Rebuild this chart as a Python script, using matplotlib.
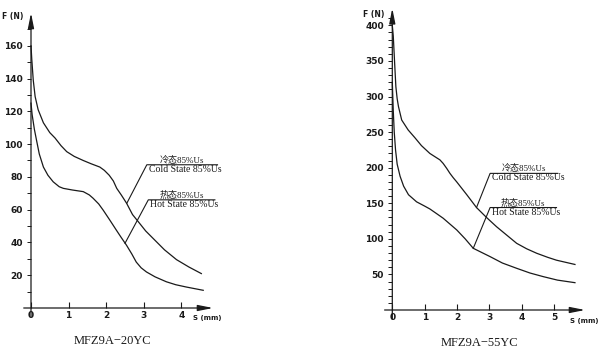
"""
Force-stroke curves of two MFZ9A solenoids (cold / hot state at 85% Us).
Writes out.png.
"""

import matplotlib

matplotlib.use("Agg")
import matplotlib.pyplot as plt

# MFZ9A-20YC, stroke S (mm) vs force F (N)
l_cold_s = [0.0, 0.02, 0.06, 0.11, 0.19, 0.33, 0.5, 0.64, 0.8, 0.95, 1.15, 1.39, 1.6, 1.83,
            1.95, 2.08, 2.19, 2.28, 2.4, 2.54, 2.7, 2.89, 3.05, 3.25, 3.55, 3.87, 4.2, 4.53]
l_cold_f = [160, 152, 139, 129, 121, 113, 107, 103.7, 99, 95.4, 92.5, 90, 88, 86,
            84, 81, 77.5, 73, 69, 64, 57, 51.6, 47, 42.4, 35.5, 29.5, 25, 21]
l_hot_s = [0.0, 0.03, 0.09, 0.15, 0.22, 0.33, 0.45, 0.59, 0.75, 0.86, 1.1, 1.39, 1.55, 1.65,
           1.8, 1.92, 2.1, 2.27, 2.4, 2.54, 2.68, 2.8, 2.93, 3.07, 3.3, 3.6, 3.85, 4.13, 4.58]
l_hot_f = [125, 118, 109, 102, 94, 86, 81, 77, 74, 73, 72, 71, 69, 67,
           63.5, 59.7, 53.5, 47.5, 43, 38.3, 33, 28, 24.5, 22, 19, 16, 14.2, 12.8, 10.8]

# MFZ9A-55YC
r_cold_s = [0.0, 0.03, 0.08, 0.11, 0.15, 0.19, 0.29, 0.49, 0.7, 0.9, 1.16, 1.4, 1.47, 1.57,
            1.68, 1.78, 1.88, 1.99, 2.3, 2.6, 2.91, 3.22, 3.84, 4.15, 4.46, 4.8, 5.07, 5.64]
r_cold_f = [400, 385, 340, 314, 297, 286, 267, 253, 242, 231, 220, 213, 211, 206,
            199, 192, 186, 180, 162, 144, 130, 117, 93.7, 86, 79.7, 74, 70, 64]
r_hot_s = [0.0, 0.03, 0.06, 0.1, 0.15, 0.24, 0.35, 0.5, 0.75, 1.0, 1.16, 1.35, 1.57, 1.99,
           2.25, 2.5, 3.02, 3.4, 3.84, 4.25, 4.66, 5.1, 5.64]
r_hot_f = [320, 280, 250, 225, 205, 188, 174, 162, 152, 146, 142, 136, 129, 112.5,
           100, 86.7, 75, 66, 58.6, 52, 46.9, 42, 38.4]

# leader lines: (start, bend, end) in data units
l_cold_lead = ([2.55, 3.08, 4.96], [64, 87.4, 87.4])
l_hot_lead = ([2.5, 3.12, 4.89], [39.5, 66, 66])
r_cold_lead = ([2.6, 3.02, 5.11], [144, 192, 192])
r_hot_lead = ([2.5, 3.02, 5.07], [86.7, 144, 144])

cn_cold = "冷态85%Us"
cn_hot = "热态85%Us"
en_cold = "Cold State 85%Us"
en_hot = "Hot State 85%Us"

LINE = "#1a1a1a"
SERIF = ["Liberation Serif", "Noto Sans CJK SC"]


def draw_panel(ax, xmax, ymax, xticks, ymajor, yminor, title, curves, leads,
               s_pos, f_pos):
    ax.set_xlim(0, xmax)
    ax.set_ylim(0, ymax)
    for sp in ax.spines.values():
        sp.set_visible(False)
    ax.patch.set_alpha(0)

    # axes drawn as arrows
    arrow = dict(arrowstyle="-|>,head_length=0.9,head_width=0.18", lw=0.9,
                 color=LINE, mutation_scale=10, shrinkA=0, shrinkB=0)
    ax.annotate("", xy=(xmax, 0), xytext=(-0.04 * xmax, 0), arrowprops=arrow,
                annotation_clip=False)
    ax.annotate("", xy=(0, ymax), xytext=(0, -0.03 * ymax), arrowprops=arrow,
                annotation_clip=False)

    ax.set_xticks(xticks)
    ax.set_xticklabels([str(t) for t in xticks])
    ax.set_yticks(ymajor)
    ax.set_yticklabels([str(t) for t in ymajor])
    ax.set_yticks(yminor, minor=True)
    ax.tick_params(axis="x", direction="in", length=4, width=0.8, pad=2,
                   labelsize=6.5, colors=LINE)
    ax.tick_params(axis="y", which="both", direction="out", length=3, width=0.7,
                   pad=3, labelsize=6.5, colors=LINE)
    for lab in ax.get_xticklabels() + ax.get_yticklabels():
        lab.set_fontweight("bold")

    for s, f in curves:
        ax.plot(s, f, color=LINE, lw=0.9, clip_on=False)

    # leader line + two-line label (Chinese above the rule, English below)
    for (xs, ys), cn, en in leads:
        ax.plot(xs, ys, color=LINE, lw=0.8, clip_on=False)
        xc = (xs[1] + xs[2]) / 2
        ax.text(xc, ys[1], cn, ha="center", va="bottom", fontsize=6.5,
                family=SERIF, color=LINE)
        ax.text(xs[1] + 0.01 * xmax, ys[1], en, ha="left", va="top",
                fontsize=7, family=SERIF, color=LINE)

    ax.text(s_pos[0], s_pos[1], "S (mm)", ha="left", va="top",
            fontsize=5, fontweight="bold", color=LINE)
    ax.text(f_pos[0], f_pos[1], "F (N)", ha="right", va="center",
            fontsize=5.5, fontweight="bold", color=LINE)
    ax.text(xmax * 0.45, -0.09 * ymax, title, ha="center", va="top",
            fontsize=9, family=SERIF, color=LINE)


fig = plt.figure(figsize=(6.0, 3.51), dpi=100)

ax1 = fig.add_axes([31 / 600, 43 / 351, 182 / 600, 295 / 351])
draw_panel(ax1, 4.84, 180, [0, 1, 2, 3, 4], list(range(20, 161, 20)),
           list(range(10, 180, 10)), "MFZ9A−20YC",
           [(l_cold_s, l_cold_f), (l_hot_s, l_hot_f)],
           [(l_cold_lead, cn_cold, en_cold), (l_hot_lead, cn_hot, en_hot)],
           (4.31, -4.5), (-0.21, 178))

ax2 = fig.add_axes([392.3 / 600, 41 / 351, 192.7 / 600, 301.7 / 351])
draw_panel(ax2, 5.95, 424, [0, 1, 2, 3, 4, 5], list(range(50, 401, 50)),
           list(range(10, 420, 10)), "MFZ9A−55YC",
           [(r_cold_s, r_cold_f), (r_hot_s, r_hot_f)],
           [(r_cold_lead, cn_cold, en_cold), (r_hot_lead, cn_hot, en_hot)],
           (5.5, -10.6), (-0.23, 415))

fig.savefig("out.png", dpi=100)
